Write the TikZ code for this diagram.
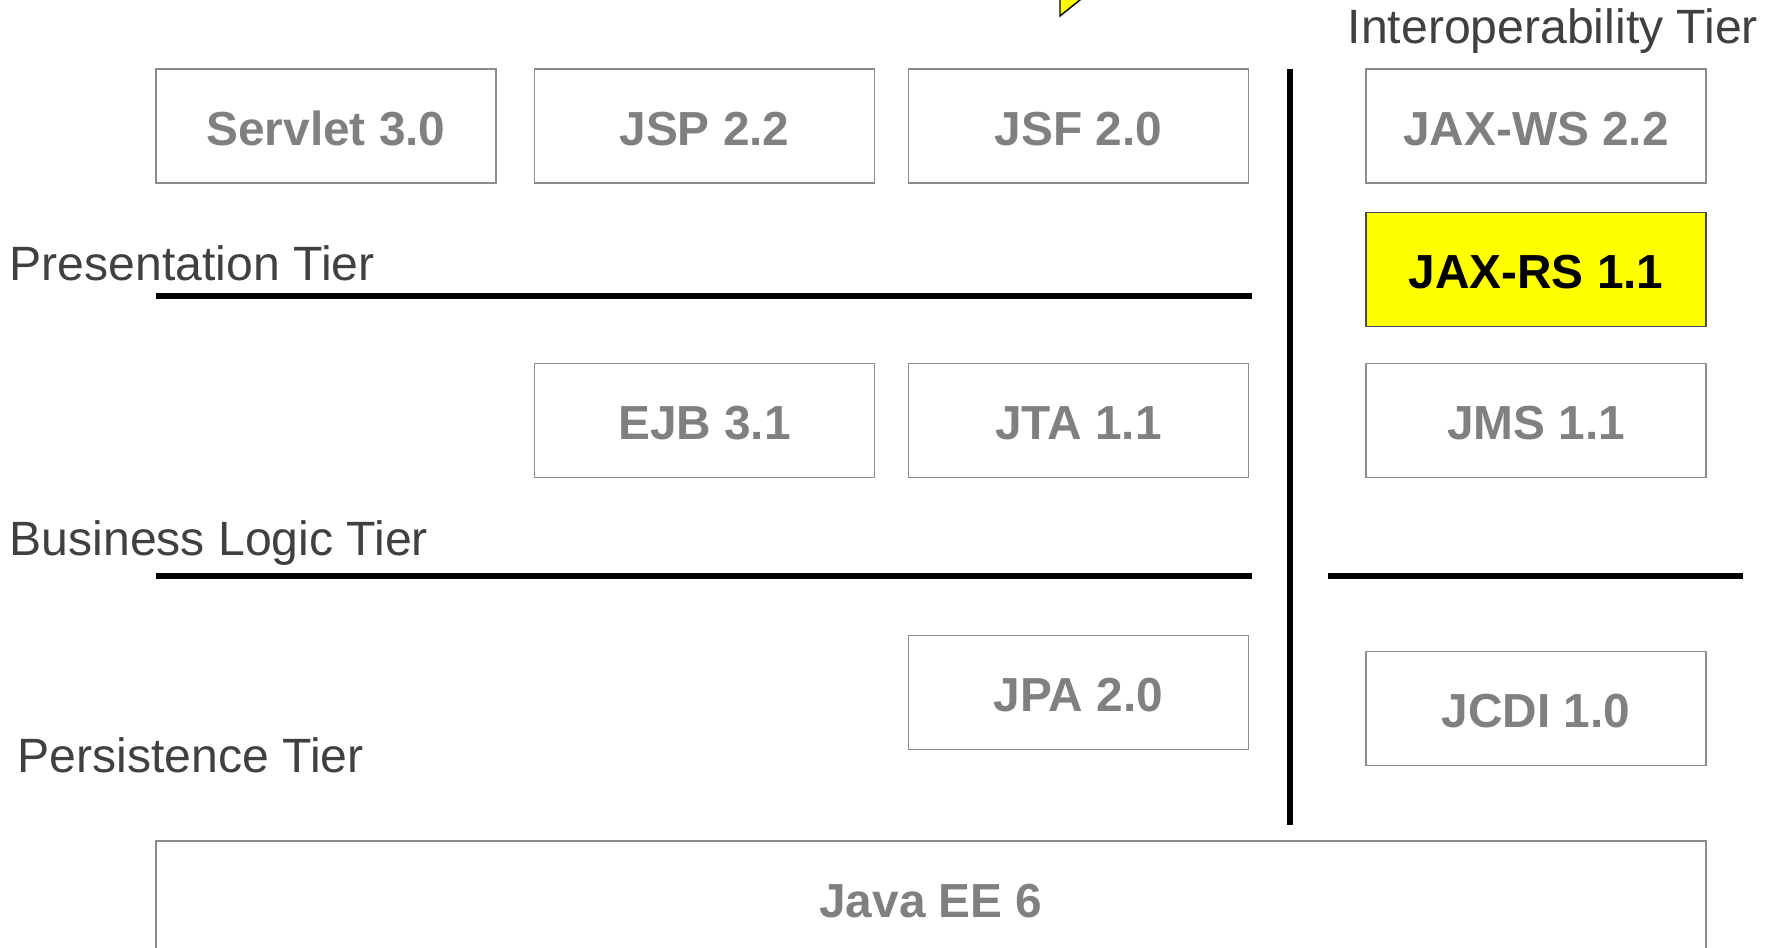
\documentclass[tikz,border=0pt]{standalone}
\usepackage{fontspec}
\setmainfont{Liberation Sans}
\usetikzlibrary{positioning}

\definecolor{specgray}{HTML}{808080}
\definecolor{boxline}{HTML}{8C8C8C}
\definecolor{callout}{HTML}{FFFF00}

\begin{document}
\begin{tikzpicture}[
  spec/.style = {draw = boxline, line width = .4pt, text = specgray,
    minimum width = 3.4cm, minimum height = 1.14cm, inner sep = 0,
    text height = 11pt, text depth = 0pt,
    font = \fontsize{13.6}{16}\selectfont\bfseries},
  hot/.style = {spec, fill = callout, draw = black!70, text = black},
  tier/.style = {anchor = base west, inner sep = 0, text = black!75,
    font = \fontsize{13.7}{16}\selectfont},
  sep/.style = {line width = 1.7pt}
]
\def\cA{3.26}
\def\cB{7.045}
\def\cC{10.785}
\def\cD{15.36}
\def\rA{-1.26}
\def\rB{-4.205}
\useasboundingbox (0,0) rectangle (17.77,-9.48);
\clip (0,0) rectangle (17.77,-9.48);

% callout tip coming in from above
\draw[fill = callout, line width = .4pt] (10.6,.1) -- (10.6,-.16) -- (10.925,.1);

% tier names
\node[tier] (pres) at (.09,-2.81) {Presentation Tier};
\node[tier] (busi) at (.09,-5.56) {Business Logic Tier};
\node[tier] (pers) at (.17,-7.73) {Persistence Tier};
\node[tier] (inter) at (13.47,-.44) {Interoperability Tier};

% presentation
\node[spec] (servlet) at (\cA,\rA) {Servlet 3.0};
\node[spec] (jsp) at (\cB,\rA) {JSP 2.2};
\node[spec] (jsf) at (\cC,\rA) {JSF 2.0};

% interoperability
\node[spec] (jaxws) at (\cD,\rA) {JAX-WS 2.2};
\node[hot] (jaxrs) at (\cD,-2.695) {JAX-RS 1.1};
\node[spec] (jms) at (\cD,\rB) {JMS 1.1};
\node[spec] (jcdi) at (\cD,-7.085) {JCDI 1.0};

% business logic
\node[spec] (ejb) at (\cB,\rB) {EJB 3.1};
\node[spec] (jta) at (\cC,\rB) {JTA 1.1};

% persistence
\node[spec] (jpa) at (\cC,-6.925) {JPA 2.0};

\node[spec, minimum width = 15.5cm] (javaee) at (9.31,-8.98) {Java EE 6};

% tier boundaries
\draw[sep] (1.56,-2.96) -- (12.52,-2.96);
\draw[sep] (1.56,-5.76) -- (12.52,-5.76);
\draw[sep] (13.28,-5.76) -- (17.43,-5.76);
\draw[sep] (12.9,-.69) -- (12.9,-8.25);
\end{tikzpicture}
\end{document}
